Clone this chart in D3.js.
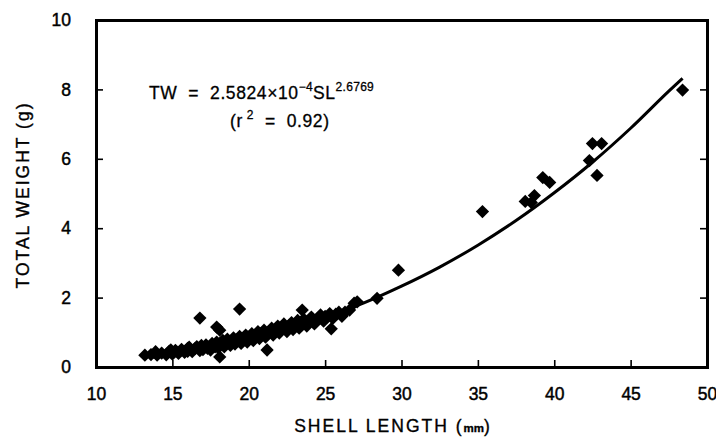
<!DOCTYPE html>
<html>
<head>
<meta charset="utf-8">
<script src="https://cdn.jsdelivr.net/npm/d3@7/dist/d3.min.js"></script>
<style>
  html, body { margin: 0; padding: 0; background: #fff; }
  svg { display: block; }
  text { font-family: "Liberation Sans", Arial, Helvetica, sans-serif; fill: #000; }
</style>
</head>
<body>
<svg id="chart" width="716" height="439" xmlns="http://www.w3.org/2000/svg"></svg>
<script>
// ---- data ----
const shellLength = [
  13.2, 13.6, 13.9, 14.0, 14.3, 14.6, 14.8, 14.9, 15.0, 15.2, 15.4, 15.6, 15.8, 16.0, 16.0, 16.1, 16.3, 16.5, 16.6, 16.8,
  16.8, 16.9, 17.0, 17.2, 17.3, 17.5, 17.6, 17.8, 17.9, 17.9, 18.0, 18.1, 18.1, 18.2, 18.3, 18.4, 18.5, 18.6, 18.8, 18.9,
  19.0, 19.1, 19.2, 19.4, 19.4, 19.5, 19.6, 19.8, 19.9, 20.0, 20.2, 20.3, 20.4, 20.6, 20.7, 20.8, 21.0, 21.1, 21.2, 21.3,
  21.5, 21.6, 21.8, 21.9, 22.0, 22.2, 22.3, 22.5, 22.6, 22.8, 22.9, 23.0, 23.2, 23.3, 23.5, 23.5, 23.6, 23.8, 24.0, 24.1,
  24.3, 24.5, 24.7, 24.9, 25.0, 25.3, 25.4, 25.5, 25.7, 25.9, 26.1, 26.3, 26.6, 26.9, 27.1, 28.4, 29.8, 35.3, 38.1, 38.5,
  38.7, 39.25, 39.7, 42.3, 42.5, 42.8, 43.1, 48.4
];
const totalWeight = [
  0.34, 0.36, 0.44, 0.34, 0.40, 0.35, 0.46, 0.49, 0.37, 0.48, 0.39, 0.51, 0.42, 0.54, 0.45, 0.57, 0.44, 0.54, 0.59, 0.47,
  1.41, 0.62, 0.50, 0.64, 0.54, 0.49, 0.68, 0.58, 0.72, 1.15, 0.55, 0.29, 1.06, 0.68, 0.77, 0.58, 0.72, 0.80, 0.62, 0.76,
  0.84, 0.66, 0.78, 0.88, 1.67, 0.68, 0.82, 0.92, 0.72, 0.86, 0.96, 0.76, 0.90, 1.02, 0.82, 0.96, 1.06, 0.86, 0.49, 1.02,
  1.12, 0.92, 1.08, 1.18, 0.98, 1.14, 1.24, 1.02, 1.18, 1.28, 1.08, 1.22, 1.34, 1.12, 1.28, 1.64, 1.38, 1.18, 1.34, 1.44,
  1.24, 1.40, 1.50, 1.32, 1.46, 1.54, 1.10, 1.40, 1.52, 1.58, 1.46, 1.58, 1.64, 1.84, 1.88, 1.98, 2.79, 4.48, 4.77, 4.74,
  4.94, 5.46, 5.32, 5.95, 6.44, 5.52, 6.44, 7.98
];
// fitted curve
const curveLength = [13.5, 15, 17.5, 20, 22.5, 25, 27.5, 30, 32.5, 35, 37.5, 40, 42.5, 45, 47.5, 48.4];
const curveWeight = [0.27, 0.36, 0.55, 0.79, 1.08, 1.43, 1.84, 2.33, 2.88, 3.51, 4.22, 5.02, 5.90, 6.88, 7.95, 8.32];
const xTicks = [10, 15, 20, 25, 30, 35, 40, 45, 50];
const yTicks = [0, 2, 4, 6, 8, 10];

// ---- drawing ----
const svg = d3.select("#chart");
const mLeft = 96, mRight = 707, mTop = 20, mBottom = 367;
const x = d3.scaleLinear().domain([10, 50]).range([mLeft, mRight]);
const y = d3.scaleLinear().domain([0, 10]).range([mBottom, mTop]);

const LBL = 17.5;

// axes: d3 axes with inward ticks; outer ticks (tickSizeOuter) close the frame on each axis
const xAxis = d3.axisBottom(x).tickValues(xTicks).tickSizeInner(-7).tickSizeOuter(0).tickPadding(21).tickFormat(d3.format("d"));
const yAxis = d3.axisLeft(y).tickValues(yTicks).tickSizeInner(-7).tickSizeOuter(0).tickPadding(25).tickFormat(d3.format("d"));
const xTop = d3.axisTop(x).tickValues([]).tickSizeOuter(0);
const yRight = d3.axisRight(y).tickValues(yTicks.slice(1, -1)).tickSizeInner(-7).tickSizeOuter(0).tickFormat("");

const gx = svg.append("g").attr("class", "ax").attr("transform", `translate(0,${mBottom})`).call(xAxis);
const gy = svg.append("g").attr("class", "ax").attr("transform", `translate(${mLeft},0)`).call(yAxis);
const gt = svg.append("g").attr("class", "ax").attr("transform", `translate(0,${mTop})`).call(xTop);
const gr = svg.append("g").attr("class", "ax").attr("transform", `translate(${mRight},0)`).call(yRight);

svg.selectAll(".ax .domain").attr("stroke", "black").attr("stroke-width", 3).attr("stroke-linecap", "square");
svg.selectAll(".ax .tick line").attr("stroke", "black").attr("stroke-width", 1.6);
[gx, gy].forEach(g => {
  g.selectAll(".tick text").attr("font-size", LBL).attr("font-family", "Liberation Sans, Arial, sans-serif")
    .attr("fill", "black").attr("stroke", "black").attr("stroke-width", 0.45);
});
gx.selectAll(".tick").filter(d => d === 10 || d === 50).select("line").remove();
gy.selectAll(".tick").filter(d => d === 0 || d === 10).select("line").remove();

// fitted curve
const curveData = curveLength.map((d, i) => [d, curveWeight[i]]);
svg.append("path").datum(curveData)
  .attr("fill", "none").attr("stroke", "black").attr("stroke-width", 3).attr("stroke-linejoin", "round")
  .attr("d", d3.line().x(d => x(d[0])).y(d => y(d[1])).curve(d3.curveMonotoneX));

// points (diamonds)
const pts = shellLength.map((d, i) => [d, totalWeight[i]]);
svg.append("g").selectAll("path").data(pts).join("path")
  .attr("transform", d => `translate(${x(d[0])},${y(d[1])}) rotate(45)`)
  .attr("d", d3.symbol().type(d3.symbolSquare).size(88))
  .attr("fill", "black");

// axis titles
const xt = svg.append("text").attr("x", 393).attr("y", 432).attr("text-anchor", "middle")
  .attr("font-size", 17.5).attr("letter-spacing", 2).attr("stroke", "black").attr("stroke-width", 0.35);
xt.append("tspan").text("SHELL LENGTH (");
xt.append("tspan").attr("font-size", 11.5).attr("font-weight", "bold").attr("letter-spacing", 0).text("mm");
xt.append("tspan").text(")");

svg.append("text").attr("transform", `translate(29,195) rotate(-90)`).attr("text-anchor", "middle")
  .attr("font-size", 17.5).attr("letter-spacing", 2).attr("stroke", "black").attr("stroke-width", 0.35)
  .text("TOTAL WEIGHT (g)");

// equation
const EQ = 17.5, SUP = 12;
const eq = svg.append("text").attr("x", 149).attr("y", 99).attr("font-size", EQ).attr("letter-spacing", 0.6)
  .attr("stroke", "black").attr("stroke-width", 0.3).style("white-space", "pre");
eq.append("tspan").text("TW  =  2.5824×10");
eq.append("tspan").attr("font-size", SUP).attr("dy", -8).attr("letter-spacing", 0.3).text("−4");
eq.append("tspan").attr("dy", 8).text("SL");
eq.append("tspan").attr("font-size", SUP).attr("dy", -8).attr("letter-spacing", 0.3).text("2.6769");

const r2 = svg.append("text").attr("x", 230).attr("y", 127).attr("font-size", EQ).attr("letter-spacing", 0.6)
  .attr("stroke", "black").attr("stroke-width", 0.3).style("white-space", "pre");
r2.append("tspan").text("(r");
r2.append("tspan").attr("font-size", SUP).attr("dy", -8).text(" 2");
r2.append("tspan").attr("dy", 8).text("  =  0.92)");
</script>
</body>
</html>
